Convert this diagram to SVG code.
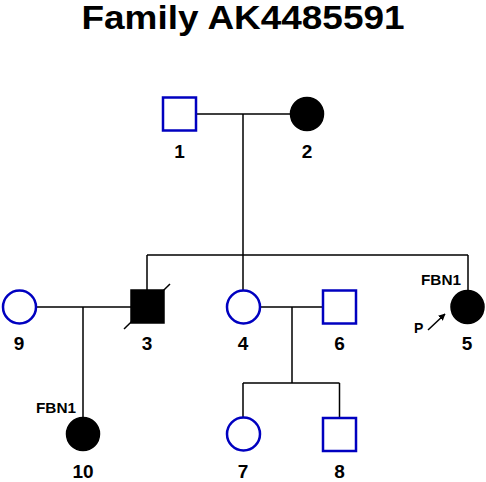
<svg xmlns="http://www.w3.org/2000/svg" width="486" height="482" viewBox="0 0 486 482">
<style>
.m{fill:#fff;stroke:#0000c0;stroke-width:2.5}
.a{fill:#000;stroke:#000;stroke-width:1.5}
.l{stroke:#000;stroke-width:1.5;fill:none}
text{font-family:"Liberation Sans",Arial,sans-serif;font-weight:bold;fill:#000}
.n{font-size:19px;text-anchor:middle}
.g{font-size:14px}
</style>
<defs>
<marker id="ah" viewBox="0 0 10 10" refX="9" refY="5" markerWidth="7" markerHeight="7" orient="auto" markerUnits="userSpaceOnUse"><path d="M0,0 L10,5 L0,10 z" fill="#000"/></marker>
</defs>
<rect width="486" height="482" fill="#fff"/>
<text x="243" y="29" font-size="33" text-anchor="middle" textLength="323" lengthAdjust="spacingAndGlyphs">Family AK4485591</text>
<g id="connectors">
<path class="l" d="M196,114 H290 M243,114 V255 M147,255 H468 M147,255 V290 M243,255 V290 M468,255 V290"/>
<path class="l" d="M36,307 H131 M83,307 V417"/>
<path class="l" d="M260,307 H323 M292,307 V383 M243,383 H339.5 M243,383 V417 M339.5,383 V418"/>
</g>
<g id="n1"><rect class="m" x="163" y="97.5" width="33" height="33"/><text class="n" x="179.5" y="158">1</text></g>
<g id="n2"><circle class="a" cx="307" cy="114" r="16.5"/><text class="n" x="307" y="158">2</text></g>
<g id="n9"><circle class="m" cx="19.5" cy="307" r="16.5"/><text class="n" x="19" y="350">9</text></g>
<g id="n3"><rect class="a" x="131" y="290" width="33" height="33"/><path class="l" d="M124,329 L170,284"/><text class="n" x="147" y="350">3</text></g>
<g id="n4"><circle class="m" cx="243.5" cy="307" r="16.5"/><text class="n" x="243" y="350">4</text></g>
<g id="n6"><rect class="m" x="323" y="290.5" width="33" height="33"/><text class="n" x="339.5" y="350">6</text></g>
<g id="n5"><circle class="a" cx="467.5" cy="307" r="16.5"/><text class="n" x="467" y="350">5</text><text class="g" x="421" y="285" textLength="40" lengthAdjust="spacingAndGlyphs">FBN1</text><text class="g" x="414" y="333">P</text><path class="l" d="M428,330 L445,314" marker-end="url(#ah)"/></g>
<g id="n10"><circle class="a" cx="83" cy="434" r="16.5"/><text class="n" x="83" y="478">10</text><text class="g" x="36" y="413" textLength="40" lengthAdjust="spacingAndGlyphs">FBN1</text></g>
<g id="n7"><circle class="m" cx="243.5" cy="434" r="16.5"/><text class="n" x="243" y="478">7</text></g>
<g id="n8"><rect class="m" x="323" y="418" width="33" height="33"/><text class="n" x="339.5" y="478">8</text></g>
</svg>
